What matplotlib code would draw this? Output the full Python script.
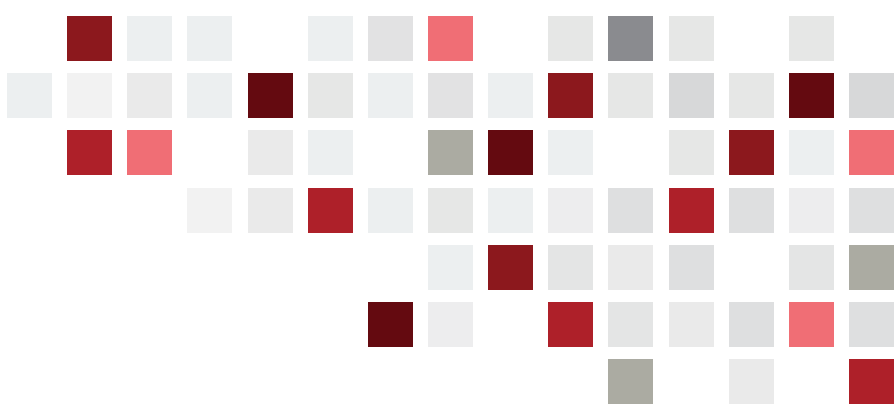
import matplotlib.pyplot as plt

# colour key for each cell, one string per row ('.' = no square)
row_codes = [
    ".Raa.acP.bGb.b.",
    "afjaDbacaRbhbDh",
    ".MP.ja.ODa.bRaP",
    "...fjMabaeiMiei",
    ".......aRkji.kO",
    "......De.MkjiPi",
    "..........O.j.M",
]

palette = {
    "D": "#640a10",
    "R": "#8c181d",
    "M": "#ae2029",
    "P": "#f06e75",
    "G": "#8a8b8f",
    "O": "#ababa2",
    "a": "#eceff0",
    "b": "#e6e7e6",
    "c": "#e2e2e3",
    "e": "#ededee",
    "f": "#f2f2f2",
    "h": "#d7d8d9",
    "i": "#dedfe0",
    "j": "#eaeaea",
    "k": "#e4e5e5",
}

fig = plt.figure(figsize=(8.95, 4.14), dpi=100)
ax = fig.add_axes([0, 0, 1, 1])

cell_w = 45 / 60.14
cell_h = 45 / 57.17

for r, codes in enumerate(row_codes):
    xs = [c for c, k in enumerate(codes) if k != "."]
    cols = [palette[k] for k in codes if k != "."]
    ax.bar(xs, [cell_h] * len(xs), bottom=r - cell_h / 2, width=cell_w,
           color=cols, edgecolor="none")

ax.set_xlim(-29.5 / 60.14, (895 - 29.5) / 60.14)
ax.set_ylim((414 - 39.5) / 57.17, -39.5 / 57.17)
ax.axis("off")

fig.savefig("out.png", dpi=100)
